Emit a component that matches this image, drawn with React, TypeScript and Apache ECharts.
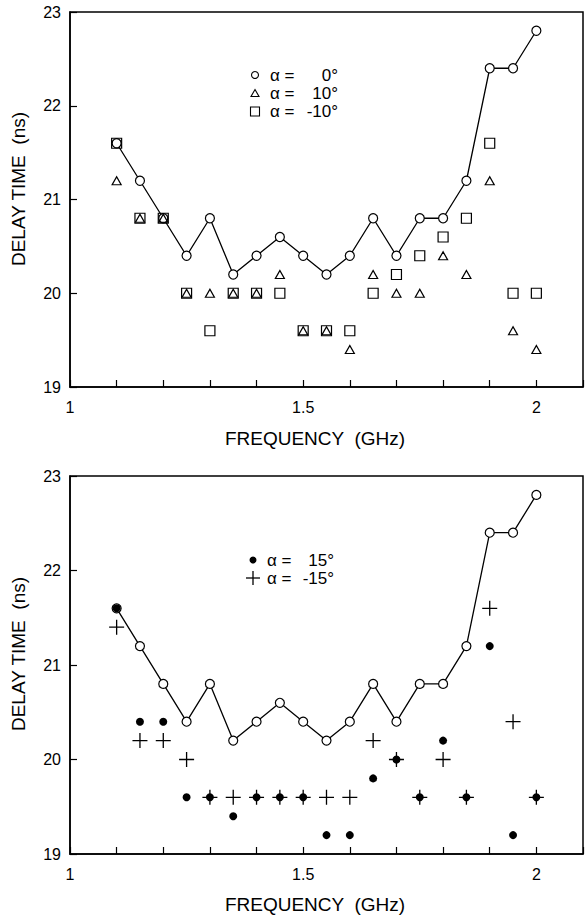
import React, { useEffect, useRef } from "react";
import * as echarts from "echarts";

const freqs = [1.1, 1.15, 1.2, 1.25, 1.3, 1.35, 1.4, 1.45, 1.5, 1.55, 1.6, 1.65, 1.7, 1.75, 1.8, 1.85, 1.9, 1.95, 2.0];
const delay0 = [21.6, 21.2, 20.8, 20.4, 20.8, 20.2, 20.4, 20.6, 20.4, 20.2, 20.4, 20.8, 20.4, 20.8, 20.8, 21.2, 22.4, 22.4, 22.8];
const delay10 = [21.2, 20.8, 20.8, 20.0, 20.0, 20.0, 20.0, 20.2, 19.6, 19.6, 19.4, 20.2, 20.0, 20.0, 20.4, 20.2, 21.2, 19.6, 19.4];
const delayM10 = [21.6, 20.8, 20.8, 20.0, 19.6, 20.0, 20.0, 20.0, 19.6, 19.6, 19.6, 20.0, 20.2, 20.4, 20.6, 20.8, 21.6, 20.0, 20.0];
const delay15 = [21.6, 20.4, 20.4, 19.6, 19.6, 19.4, 19.6, 19.6, 19.6, 19.2, 19.2, 19.8, 20.0, 19.6, 20.2, 19.6, 21.2, 19.2, 19.6];
const delayM15 = [21.4, 20.2, 20.2, 20.0, 19.6, 19.6, 19.6, 19.6, 19.6, 19.6, 19.6, 20.2, 20.0, 19.6, 20.0, 19.6, 21.6, 20.4, 19.6];
const xTickLabels = [1, 1.5, 2];
const yTickLabels = [19, 20, 21, 22, 23];
const legendAlpha = "α =";
const legendTop = ["0°", "10°", "-10°"];
const legendBottom = ["15°", "-15°"];

const FONT = "'Liberation Sans', Arial, Helvetica, sans-serif";
const PLUS = "path://M0,7L14,7M7,0L7,14";

const pair = (ys: number[]) => freqs.map((f, i) => [f, ys[i]]);

function xAxisCfg(gridIndex: number) {
  return {
    type: "value",
    gridIndex,
    min: 1,
    max: 2.1,
    interval: 0.1,
    axisLine: { show: true, onZero: false, lineStyle: { color: "#000", width: 1.5 } },
    axisTick: { show: true, inside: true, length: 7, lineStyle: { color: "#000", width: 1.2 } },
    splitLine: { show: false },
    axisLabel: {
      color: "#000",
      fontSize: 16,
      fontFamily: FONT,
      margin: 12,
      formatter: (v: number) => {
        const hit = xTickLabels.find((t) => Math.abs(t - v) < 1e-6);
        return hit === undefined ? "" : String(hit);
      },
    },
  };
}

function yAxisCfg(gridIndex: number) {
  return {
    type: "value",
    gridIndex,
    min: 19,
    max: 23,
    interval: 1,
    axisLine: { show: true, onZero: false, lineStyle: { color: "#000", width: 1.5 } },
    axisTick: { show: true, inside: true, length: 7, lineStyle: { color: "#000", width: 1.2 } },
    splitLine: { show: false },
    axisLabel: {
      color: "#000",
      fontSize: 16,
      fontFamily: FONT,
      margin: 9,
      formatter: (v: number) => (yTickLabels.includes(Math.round(v)) ? String(Math.round(v)) : ""),
    },
  };
}

const openStyle = (fill: string) => ({ color: fill, borderColor: "#000", borderWidth: 1.2, opacity: 1 });

export default function App() {
  const ref = useRef<HTMLDivElement>(null);
  useEffect(() => {
    if (!ref.current) return;
    const chart = echarts.init(ref.current, null, { renderer: "svg" });
    const textStyle = { fill: "#000", fontSize: 19, fontFamily: FONT };
    const legStyle = { fill: "#000", fontSize: 17, fontFamily: FONT, textVerticalAlign: "middle" };
    const legendRow = (x: number, right: number, y: number, num: string) => [
      { type: "text", x, y, style: { ...legStyle, text: legendAlpha, textAlign: "left" } },
      { type: "text", x: right, y, style: { ...legStyle, text: num, textAlign: "right" } },
    ];
    chart.setOption({
      animation: false,
      backgroundColor: "#fff",
      grid: [
        { left: 70, top: 12, width: 518, height: 375, show: true, borderColor: "#000", borderWidth: 1.5, backgroundColor: "transparent" },
        { left: 70, top: 476, width: 518, height: 378, show: true, borderColor: "#000", borderWidth: 1.5, backgroundColor: "transparent" },
      ],
      xAxis: [xAxisCfg(0), xAxisCfg(1)],
      yAxis: [yAxisCfg(0), yAxisCfg(1)],
      series: [
        {
          name: "α = 0°",
          type: "line",
          xAxisIndex: 0,
          yAxisIndex: 0,
          data: pair(delay0),
          symbol: "circle",
          symbolSize: 9,
          lineStyle: { color: "#000", width: 1.3 },
          itemStyle: openStyle("#fff"),
          silent: true,
          z: 2,
        },
        {
          name: "α = -10°",
          type: "scatter",
          xAxisIndex: 0,
          yAxisIndex: 0,
          data: pair(delayM10),
          symbol: "rect",
          symbolSize: 10,
          itemStyle: openStyle("transparent"),
          silent: true,
          z: 3,
        },
        {
          name: "α = 10°",
          type: "scatter",
          xAxisIndex: 0,
          yAxisIndex: 0,
          data: pair(delay10),
          symbol: "triangle",
          symbolSize: [9, 8],
          itemStyle: openStyle("transparent"),
          silent: true,
          z: 4,
        },
        {
          name: "α = 0° (b)",
          type: "line",
          xAxisIndex: 1,
          yAxisIndex: 1,
          data: pair(delay0),
          symbol: "circle",
          symbolSize: 9,
          lineStyle: { color: "#000", width: 1.3 },
          itemStyle: openStyle("#fff"),
          silent: true,
          z: 2,
        },
        {
          name: "α = 15°",
          type: "scatter",
          xAxisIndex: 1,
          yAxisIndex: 1,
          data: pair(delay15),
          symbol: "circle",
          symbolSize: 8,
          itemStyle: { color: "#000", opacity: 1 },
          silent: true,
          z: 3,
        },
        {
          name: "α = -15°",
          type: "scatter",
          xAxisIndex: 1,
          yAxisIndex: 1,
          data: pair(delayM15),
          symbol: PLUS,
          symbolSize: 15,
          itemStyle: { color: "transparent", borderColor: "#000", borderWidth: 1.3, opacity: 1 },
          silent: true,
          z: 4,
        },
      ],
      graphic: [
        { type: "text", x: 18, y: 189, rotation: Math.PI / 2, style: { ...textStyle, text: "DELAY TIME  (ns)", textAlign: "center", textVerticalAlign: "middle" } },
        { type: "text", x: 18, y: 654, rotation: Math.PI / 2, style: { ...textStyle, text: "DELAY TIME  (ns)", textAlign: "center", textVerticalAlign: "middle" } },
        { type: "text", x: 315, y: 438, style: { ...textStyle, text: "FREQUENCY  (GHz)", textAlign: "center", textVerticalAlign: "middle" } },
        { type: "text", x: 315, y: 904, style: { ...textStyle, text: "FREQUENCY  (GHz)", textAlign: "center", textVerticalAlign: "middle" } },
        // top legend
        { type: "circle", shape: { cx: 255, cy: 75, r: 3.5 }, style: { fill: "#fff", stroke: "#000", lineWidth: 1.1 } },
        { type: "polygon", shape: { points: [[255, 89.5], [259, 96.5], [251, 96.5]] }, style: { fill: "none", stroke: "#000", lineWidth: 1.1 } },
        { type: "rect", shape: { x: 250.5, y: 107, width: 9, height: 9 }, style: { fill: "none", stroke: "#000", lineWidth: 1.1 } },
        ...legendRow(270, 338, 75, legendTop[0]),
        ...legendRow(270, 338, 93, legendTop[1]),
        ...legendRow(270, 338, 111, legendTop[2]),
        // bottom legend
        { type: "circle", shape: { cx: 253, cy: 560, r: 3.5 }, style: { fill: "#000" } },
        { type: "line", shape: { x1: 246, y1: 578, x2: 260, y2: 578 }, style: { stroke: "#000", lineWidth: 1.3 } },
        { type: "line", shape: { x1: 253, y1: 571, x2: 253, y2: 585 }, style: { stroke: "#000", lineWidth: 1.3 } },
        ...legendRow(267, 334, 560, legendBottom[0]),
        ...legendRow(267, 334, 578, legendBottom[1]),
      ],
    });
    return () => chart.dispose();
  }, []);
  return <div ref={ref} style={{ position: "absolute", left: 0, top: 0, width: 586, height: 919 }} />;
}
